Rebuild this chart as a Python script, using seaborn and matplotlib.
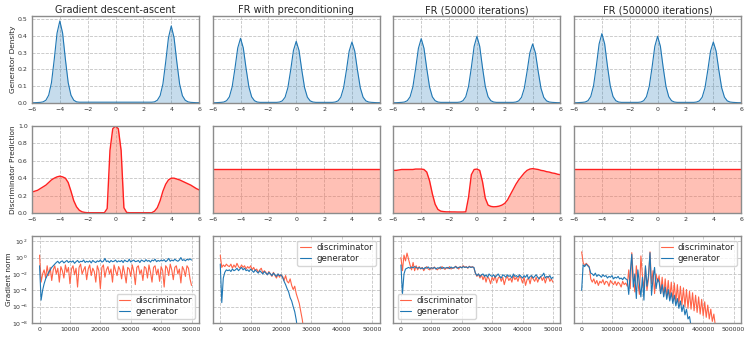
import matplotlib
matplotlib.use("Agg")
import matplotlib.pyplot as plt
import numpy as np
import seaborn as sns

# ---- data ----
titles = ["Gradient descent-ascent", "FR with preconditioning",
          "FR (50000 iterations)", "FR (500000 iterations)"]

# x grid for density / discriminator panels
grid = np.round(np.arange(-6, 6.01, 0.2), 1)

dens_gda = [0, 0, .001, .002, .005, .015, .045, .12, .26, .417, .49, .417, .26, .12, .045, .015, .005,
            .003, .003, .003, .003, .003, .003, .003, .003, .003, .003, .003, .003, .003, .003, .003, .003,
            .003, .003, .003, .003, .003, .003, .003, .003, .003, .003, .003,
            .005, .015, .042, .112, .244, .39, .46, .39, .244, .112, .042, .015, .005, .002, .001, 0, 0]
dens_pre = [0, 0, .001, .002, .004, .012, .035, .095, .205, .328, .386, .328, .205, .095, .035, .012, .004,
            .002, .002, .002, .002, .002, .002, .002, .004, .011, .033, .09, .195, .313, .368, .313, .195,
            .09, .033, .011, .004, .002, .002, .002, .002, .002, .002, .002,
            .004, .011, .033, .089, .193, .309, .364, .309, .193, .089, .033, .011, .004, .002, .001, 0, 0]
dens_fr5e4 = [0, 0, .001, .002, .004, .012, .035, .094, .204, .326, .384, .326, .204, .094, .035, .012, .004,
              .002, .002, .002, .002, .002, .002, .002, .004, .012, .036, .098, .211, .338, .398, .338, .211,
              .098, .036, .012, .004, .002, .002, .002, .002, .002, .002, .002,
              .004, .011, .032, .086, .187, .299, .352, .299, .187, .086, .032, .011, .004, .002, .001, 0, 0]
dens_fr5e5 = [0, 0, .001, .002, .004, .012, .037, .101, .219, .352, .414, .352, .219, .101, .037, .012, .004,
              .002, .002, .002, .002, .002, .002, .002, .004, .012, .036, .098, .211, .338, .398, .338, .211,
              .098, .036, .012, .004, .002, .002, .002, .002, .002, .002, .002,
              .004, .011, .033, .089, .193, .309, .364, .309, .193, .089, .033, .011, .004, .002, .001, 0, 0]

disc_gda = [.24, .25, .26, .28, .30, .32, .35, .38, .40, .415, .423, .415, .40, .35, .25, .14, .07, .03,
            .012, .005, .002, .002, .002, .002, .002, .002, .002, .05, .72, .97, 1.0, .97, .72, .06, .005,
            .002, .002, .002, .002, .002, .002, .002, .002, .002, .02, .06, .14, .25, .33, .38, .40, .40,
            .39, .38, .365, .35, .335, .32, .30, .28, .265]
disc_fr5e4 = [.49, .49, .495, .50, .50, .50, .50, .50, .505, .505, .505, .50, .47, .37, .22, .10, .04, .02,
              .015, .012, .012, .011, .011, .010, .010, .010, .012, .18, .44, .50, .505, .49, .36, .17, .09,
              .075, .07, .072, .078, .09, .11, .15, .21, .27, .33, .38, .42, .46, .49, .505, .51, .505, .50,
              .49, .485, .475, .47, .46, .455, .445, .44]
flat_x = [-6, 6]
disc_flat = [0.5, 0.5]

# gradient norms, log10 values, sampled every 500 (every 5000 for the last run)
iters_short = np.arange(0, 50001, 500)
iters_long = np.arange(0, 500001, 5000)

gda_d = [0.3, -3.0, -2.0, -1.5, -2.5,
         -1.0, -2.2, -1.2, -2.8, -1.5, -1.0, -2.0, -1.3, -3.0, -1.1,
         -1.6, -2.5, -0.9, -1.8, -1.2, -3.2, -1.4, -1.0, -2.1, -1.3,
         -3.6, -1.2, -0.8, -2.0, -1.5, -1.1, -2.7, -1.4, -0.9, -2.2,
         -1.3, -1.7, -3.0, -1.0, -1.6, -3.8, -1.2, -0.9, -2.4, -1.5,
         -1.1, -2.0, -1.4, -3.0, -0.9, -1.6, -2.2, -1.1, -1.5, -2.6,
         -1.0, -1.9, -3.1, -1.2, -1.4, -2.3, -0.9, -1.7, -3.3, -1.2,
         -1.0, -2.0, -1.5, -2.8, -1.1, -1.3, -2.5, -0.9, -1.8, -3.0,
         -1.2, -1.0, -2.1, -1.4, -2.9, -1.1, -1.6, -3.6, -1.0, -1.3,
         -2.2, -0.8, -1.5, -2.7, -1.2, -1.0, -2.0, -1.4, -3.1, -1.1,
         -1.5, -2.3, -1.0, -1.3, -2.6, -3.4]
gda_g = [-1.0, -5.2, -4.0, -3.2, -2.6, -2.2, -1.8, -1.5, -1.2, -1.0, -0.8,
         -0.6, -0.45, -0.7, -0.5, -0.4, -0.65, -0.5, -0.35, -0.6, -0.45,
         -0.55, -0.4, -0.7, -0.5, -0.35, -0.6, -0.45, -0.5, -0.3, -0.6,
         -0.45, -0.55, -0.4, -0.65, -0.35, -0.5, -0.6, -0.4, -0.5, -0.3,
         -0.55, -0.45, -0.1, -0.5, -0.4, -0.6, -0.35, -0.5, -0.45, -0.3,
         -0.55, -0.4, -0.5, -0.35, -0.6, -0.3, -0.45, -0.5, -0.2, -0.55,
         -0.4, -0.3, -0.5, -0.45, -0.35, -0.6, -0.3, -0.4, -0.5, -0.25,
         -0.45, -0.35, -0.55, -0.3, -0.4, -0.2, -0.5, -0.35, -0.45, -0.3,
         -0.4, -0.25, -0.5, -0.35, -0.1, -0.45, -0.3, -0.4, -0.2, -0.35,
         -0.45, -0.3, 0.0, -0.35, -0.25, -0.4, -0.2, -0.3, -0.15, -0.3]

pre_d = [0.3, -1.2, -0.9, -1.1, -0.8, -1.0,
         -1.1, -0.8, -1.3, -0.9, -1.2, -0.7, -1.1, -1.3, -0.9, -1.2, -1.0, -1.4, -1.1, -1.3, -1.0,
         -1.5, -1.2, -1.6, -1.4, -1.8, -1.5, -1.3, -1.9, -1.6, -1.8, -2.1, -1.7, -2.0, -2.3, -1.8,
         -2.2, -2.5, -2.0, -2.4, -2.1,
         -2.3, -2.8, -2.2, -2.9, -3.1, -2.6, -3.4, -3.9, -3.5, -4.4, -5.0, -5.6, -6.6, -7.6, -9.0]
pre_g = [-0.8, -5.5, -2.5, -1.8, -1.5, -1.6,
         -1.5, -1.7, -1.4, -1.6, -1.5, -1.3, -1.6, -1.4, -1.2, -1.5, -1.3, -1.6, -1.5, -1.7, -1.4,
         -1.6, -1.8, -1.5, -1.7, -1.9, -1.6, -1.8, -2.0, -1.7, -1.9, -2.1, -1.8, -2.0, -2.2, -1.9,
         -2.1, -2.3, -2.0, -2.2, -2.1,
         -2.4, -2.9, -3.3, -3.8, -4.2, -4.9, -5.3, -6.0, -6.6, -7.6, -9.0]

fr5e4_d = [0.0, -1.6, 0.3, -0.4, 0.55, -0.2, -0.9, -1.5, -0.6, -1.6, -1.0,
           -1.5, -1.1, -1.4, -1.2, -1.6, -1.3, -1.1, -1.4, -1.5, -1.2,
           -1.4, -1.15, -1.35, -1.5, -1.25, -1.4, -1.1, -1.3, -1.45, -1.2,
           -1.35, -1.1, -1.4, -1.25, -1.3, -1.05, -1.2, -1.4, -1.1, -1.25,
           -1.0, -1.2, -1.1, -1.3, -1.05, -1.2, -1.1, -1.25,
           -1.9, -2.3, -2.0, -2.5, -2.1, -2.7, -2.2, -3.0, -2.3, -2.6,
           -3.2, -2.4, -2.8, -2.2, -3.1, -2.5, -2.3, -2.9, -2.4, -3.3,
           -2.6, -2.3, -2.8, -2.5, -3.0, -2.2, -2.7, -2.4, -2.9, -2.3,
           -2.5, -3.1, -2.4, -3.4, -2.7, -2.5, -3.2, -2.3, -2.6, -2.9,
           -2.4, -3.0, -2.5, -2.3, -2.8, -2.4, -3.1, -2.5, -2.3, -2.9,
           -2.6, -3.0]
fr5e4_g = [-0.9, -4.4, -2.0, -1.4, -1.3, -1.2, -1.3, -1.15, -1.25, -1.1, -1.2,
           -1.3, -1.2, -1.35, -1.25, -1.4, -1.2, -1.3, -1.15, -1.35, -1.25,
           -1.3, -1.2, -1.4, -1.25, -1.3, -1.15, -1.35, -1.2, -1.3, -1.25,
           -1.2, -1.35, -1.15, -1.3, -1.2, -1.1, -1.3, -1.2, -1.15, -1.25,
           -1.1, -1.2, -1.15, -1.25, -1.1, -1.2, -1.15, -1.2,
           -1.9, -2.2, -2.0, -2.3, -2.1, -2.0, -2.3, -2.1, -2.4, -2.0,
           -2.2, -2.3, -2.1, -2.4, -2.2, -2.0, -2.3, -2.5, -2.1, -2.2,
           -2.4, -2.1, -2.3, -2.2, -2.5, -2.0, -2.3, -2.2, -2.4, -2.1,
           -2.3, -2.5, -2.2, -2.4, -2.1, -2.6, -2.3, -2.2, -2.5, -2.3,
           -2.1, -2.4, -2.6, -2.3, -2.2, -1.9, -2.5, -2.3, -2.4, -2.2,
           -2.6, -2.4]

fr5e5_d = [0.7, -0.6, -1.0, -0.7, -0.9, -1.1, -2.6,
           -3.0, -2.6, -3.2, -2.8, -3.4, -2.9, -3.1, -2.7, -3.3, -2.9, -3.0, -3.5,
           -2.8, -3.1, -3.3, -2.9, -3.4, -3.0, -3.2, -3.6, -2.9, -3.3, -3.1, -3.5,
           -1.5, -3.8, 0.6, -2.5, -4.2, -1.0, -3.0, -4.5, 0.2, -2.2,
           -3.8, -1.2, -4.0, -2.6, 0.7, -3.2, -1.6, -4.4, -2.0, -3.0,
           -2.2, -4.4, -2.4, -4.7, -2.6, -4.9, -2.8, -5.1, -3.0, -5.3,
           -3.1, -5.5, -3.3, -5.7, -3.5, -5.8, -3.7, -6.0, -3.9, -6.2,
           -4.1, -6.3, -4.3, -6.5, -4.6, -6.7, -4.8, -6.9, -5.1, -7.1,
           -5.4, -7.3, -5.8, -7.5, -6.3, -7.8, -6.9, -8.3, -9.0]
fr5e5_g = [-4.0, -0.9, -1.1, -0.8, -1.0, -1.2, -1.9,
           -2.0, -2.2, -1.9, -2.3, -2.1, -2.2, -2.4, -2.1, -2.3, -2.2, -2.5, -2.3,
           -2.4, -2.2, -2.6, -2.4, -2.5, -2.3, -2.6, -2.5, -2.7, -2.4, -2.6, -2.7,
           -4.5, -1.8, 0.4, -3.6, -2.0, -5.0, -1.5, -3.2, -4.8, -2.4,
           -5.2, -1.0, -3.5, -2.2, 0.6, -4.6, -2.5, -1.2, -3.8, -2.6,
           -3.0, -4.4, -3.3, -4.8, -3.6, -5.1, -3.9, -5.3, -4.3, -5.6,
           -4.6, -5.9, -5.0, -6.2, -5.3, -6.6, -5.8, -7.0, -6.3, -7.5,
           -7.2, -8.4, -9.5]

density = [dens_gda, dens_pre, dens_fr5e4, dens_fr5e5]
disc_pred = [(grid, disc_gda), (flat_x, disc_flat), (grid, disc_fr5e4), (flat_x, disc_flat)]
grads = [(iters_short, gda_d, gda_g, "lower right"),
         (iters_short, pre_d, pre_g, "upper right"),
         (iters_short, fr5e4_d, fr5e4_g, "lower left"),
         (iters_long, fr5e5_d, fr5e5_g, "upper right")]

# ---- style ----
sns.set_style("whitegrid", {"grid.linestyle": "--", "grid.color": "#c4c4c4",
                            "axes.edgecolor": "#8c8c8c"})
plt.rcParams["font.family"] = ["DejaVu Sans"]
plt.rcParams["axes.linewidth"] = 1.0
plt.rcParams["grid.linewidth"] = 0.6

blue = "#1f77b4"
disc_col = "#ff6347"

fig, axes = plt.subplots(3, 4, figsize=(7.54, 3.39), dpi=100)
fig.subplots_adjust(left=0.0424, right=0.983, top=0.953, bottom=0.047,
                    wspace=0.081, hspace=0.27)

for j in range(4):
    # generator density
    ax = axes[0, j]
    ax.plot(grid, density[j], color=blue, lw=0.8)
    ax.fill_between(grid, density[j], color=blue, alpha=0.25, lw=0)
    ax.set_xlim(-6, 6)
    ax.set_ylim(0, 0.52)
    ax.set_xticks([-6, -4, -2, 0, 2, 4, 6])
    ax.set_yticks([0, 0.1, 0.2, 0.3, 0.4, 0.5])
    ax.set_title(titles[j], fontsize=7, pad=2)

    # discriminator prediction
    ax = axes[1, j]
    xs, ys = disc_pred[j]
    ax.plot(xs, ys, color="#ff2020", lw=1.0)
    ax.fill_between(xs, ys, color="tomato", alpha=0.4, lw=0)
    ax.set_xlim(-6, 6)
    ax.set_ylim(0, 1.0)
    ax.set_xticks([-6, -4, -2, 0, 2, 4, 6])
    ax.set_yticks([0, 0.2, 0.4, 0.6, 0.8, 1.0])

    # gradient norms
    ax = axes[2, j]
    it, d, g, loc = grads[j]
    sns.lineplot(x=it[:len(d)], y=10.0 ** np.array(d), ax=ax, color=disc_col,
                 lw=0.8, label="discriminator")
    sns.lineplot(x=it[:len(g)], y=10.0 ** np.array(g), ax=ax, color=blue,
                 lw=0.8, label="generator")
    ax.set_yscale("log")
    ax.set_ylim(1e-8, 10 ** 2.6)
    ax.set_yticks([1e-8, 1e-6, 1e-4, 1e-2, 1e0, 1e2])
    ax.minorticks_off()
    span = it[-1]
    ax.set_xlim(-0.05 * span, 1.05 * span)
    ax.set_xticks(np.linspace(0, span, 6))
    ax.xaxis.set_major_formatter(matplotlib.ticker.FuncFormatter(lambda v, p: f"{int(v)}"))
    ax.legend(loc=loc, fontsize=6.2, frameon=True, handlelength=1.3,
              handletextpad=0.6, borderpad=0.3, labelspacing=0.2)

for ax in axes.flat:
    ax.tick_params(labelsize=4.5, length=2, width=0.6, pad=1, colors="#333333",
                   color="#8c8c8c")
    ax.grid(True, which="major")
    if ax not in axes[:, 0]:
        ax.set_yticklabels([])
    ax.set_xlabel("")
    ax.set_ylabel("")

axes[0, 0].set_ylabel("Generator Density", fontsize=5.3)
axes[1, 0].set_ylabel("Discriminator Prediction", fontsize=5.3)
axes[2, 0].set_ylabel("Gradient norm", fontsize=5.3)
axes[0, 0].yaxis.set_label_coords(-0.095, 0.5)
axes[1, 0].yaxis.set_label_coords(-0.095, 0.5)
axes[2, 0].yaxis.set_label_coords(-0.12, 0.5)

fig.savefig("out.png", dpi=100)
